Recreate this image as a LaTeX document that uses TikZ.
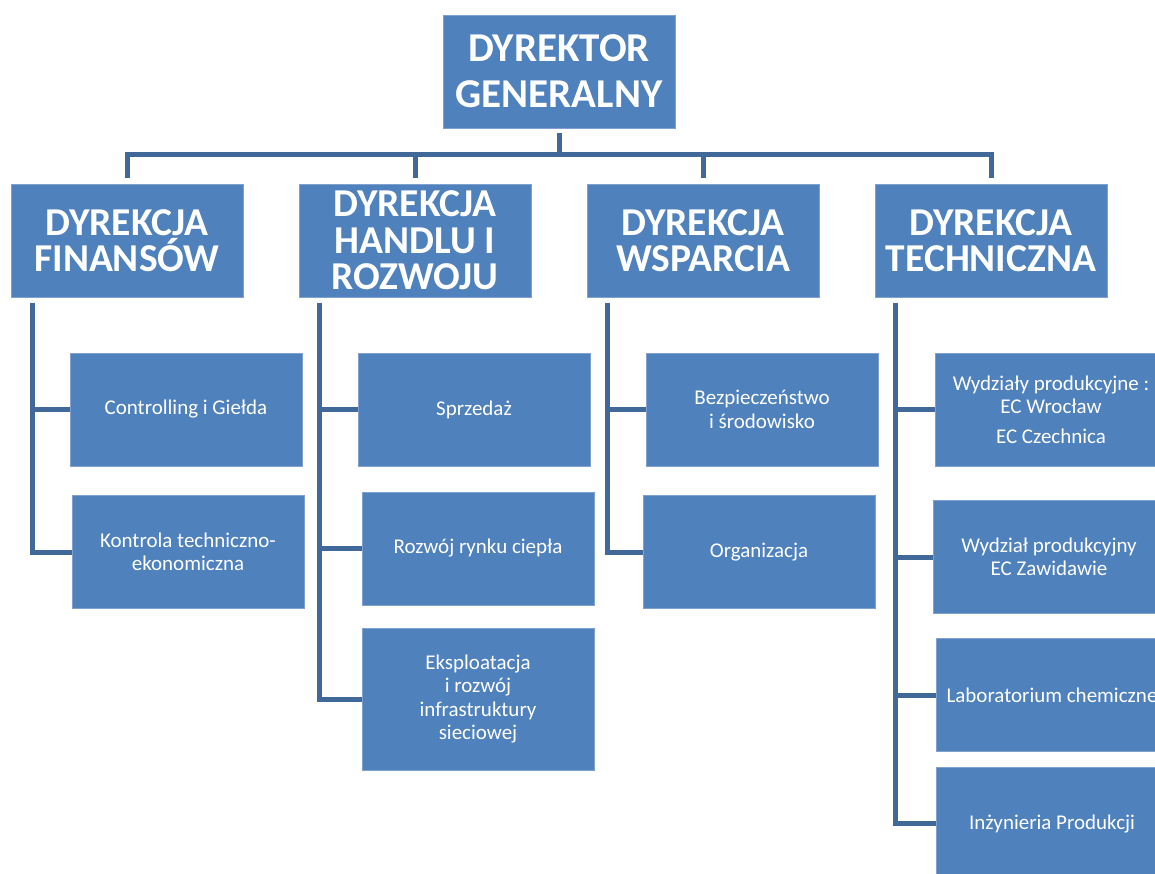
\documentclass[tikz,border=0pt]{standalone}
\usepackage{fontspec}
\setmainfont{Carlito}
\usepackage{tikz}
\usetikzlibrary{positioning,calc}
\usepackage{xcolor}

\definecolor{boxblue}{HTML}{4F81BD}
\definecolor{boxedge}{HTML}{7EA1CF}
\definecolor{linkblue}{HTML}{40699A}

\begin{document}
\begin{tikzpicture}[
    x=1pt, y=-1pt,
    unit/.style={
        rectangle,
        fill=boxblue,
        draw=boxedge,
        line width=0.8pt,
        minimum width=232pt,
        minimum height=113pt,
        text=white,
        align=center,
        inner sep=2pt
    },
    head/.style={
        unit,
        font=\fontsize{39.5}{36.5}\selectfont\bfseries
    },
    chief/.style={
        unit,
        font=\fontsize{41}{46}\selectfont\bfseries
    },
    dept/.style={
        unit,
        font=\fontsize{21}{23.5}\selectfont
    },
    link/.style={
        draw=linkblue,
        line width=5pt,
        line join=miter
    }
]
\clip (0,0) rectangle (1155,874);
\fill[white] (0,0) rectangle (1155,874);

% top
\node[chief] (dg) at (559,71.5) {DYREKTOR\\GENERALNY};
\coordinate (bus) at (0,155);

% dyrekcje
\node[head] (fin)    at (127,240.5) {DYREKCJA\\FINANSÓW};
\node[head] (handel) at (415,240.5) {DYREKCJA\\HANDLU I\\ROZWOJU};
\node[head] (wsp)    at (703,240.5) {DYREKCJA\\WSPARCIA};
\node[head] (tech)   at (991,240.5) {DYREKCJA\\TECHNICZNA};

% finanse
\node[dept] (ctrl)     at (186,409.5) {Controlling i Giełda};
\node[dept] (kontrola) at (188,552)   {Kontrola techniczno-\\ekonomiczna};

% handel i rozwoj
\node[dept] (sprzedaz) at (474,409.5) {Sprzedaż};
\node[dept] (rynek)    at (478,548.5) {Rozwój rynku ciepła};
\node[dept, minimum height=142pt] (siec) at (478,699)
    {Eksploatacja\\i rozwój\\infrastruktury\\sieciowej};

% wsparcie
\node[dept] (bhp)  at (762,409.5) {Bezpieczeństwo\\i środowisko};
\node[dept] (org)  at (759,552)   {Organizacja};

% techniczna
\node[dept] (wprod)  at (1051,409.5) {Wydziały produkcyjne :\\EC Wrocław\\[6pt]EC Czechnica};
\node[dept] (zawid)  at (1049,557)   {Wydział produkcyjny\\EC Zawidawie};
\node[dept] (lab)    at (1052,695)   {Laboratorium chemiczne};
\node[dept] (inz)    at (1052,823.5) {Inżynieria Produkcji};

% polaczenia
\draw[link] ([yshift=-5pt]dg.south) -- (dg |- bus);
\draw[link] ([yshift=6pt]fin.north) -- (fin |- bus) -- (tech |- bus)
    -- ([yshift=6pt]tech.north);
\draw[link] (handel |- bus) -- ([yshift=6pt]handel.north);
\draw[link] (wsp |- bus) -- ([yshift=6pt]wsp.north);

\draw[link] ([xshift=22pt,yshift=-6pt]fin.south west) |- (ctrl.west);
\draw[link] ([xshift=22pt,yshift=-6pt]fin.south west) |- (kontrola.west);

\draw[link] ([xshift=21pt,yshift=-6pt]handel.south west) |- (sprzedaz.west);
\draw[link] ([xshift=21pt,yshift=-6pt]handel.south west) |- (rynek.west);
\draw[link] ([xshift=21pt,yshift=-6pt]handel.south west) |- (siec.west);

\draw[link] ([xshift=21pt,yshift=-6pt]wsp.south west) |- (bhp.west);
\draw[link] ([xshift=21pt,yshift=-6pt]wsp.south west) |- (org.west);

\draw[link] ([xshift=21pt,yshift=-6pt]tech.south west) |- (wprod.west);
\draw[link] ([xshift=21pt,yshift=-6pt]tech.south west) |- (zawid.west);
\draw[link] ([xshift=21pt,yshift=-6pt]tech.south west) |- (lab.west);
\draw[link] ([xshift=21pt,yshift=-6pt]tech.south west) |- (inz.west);
\end{tikzpicture}
\end{document}
